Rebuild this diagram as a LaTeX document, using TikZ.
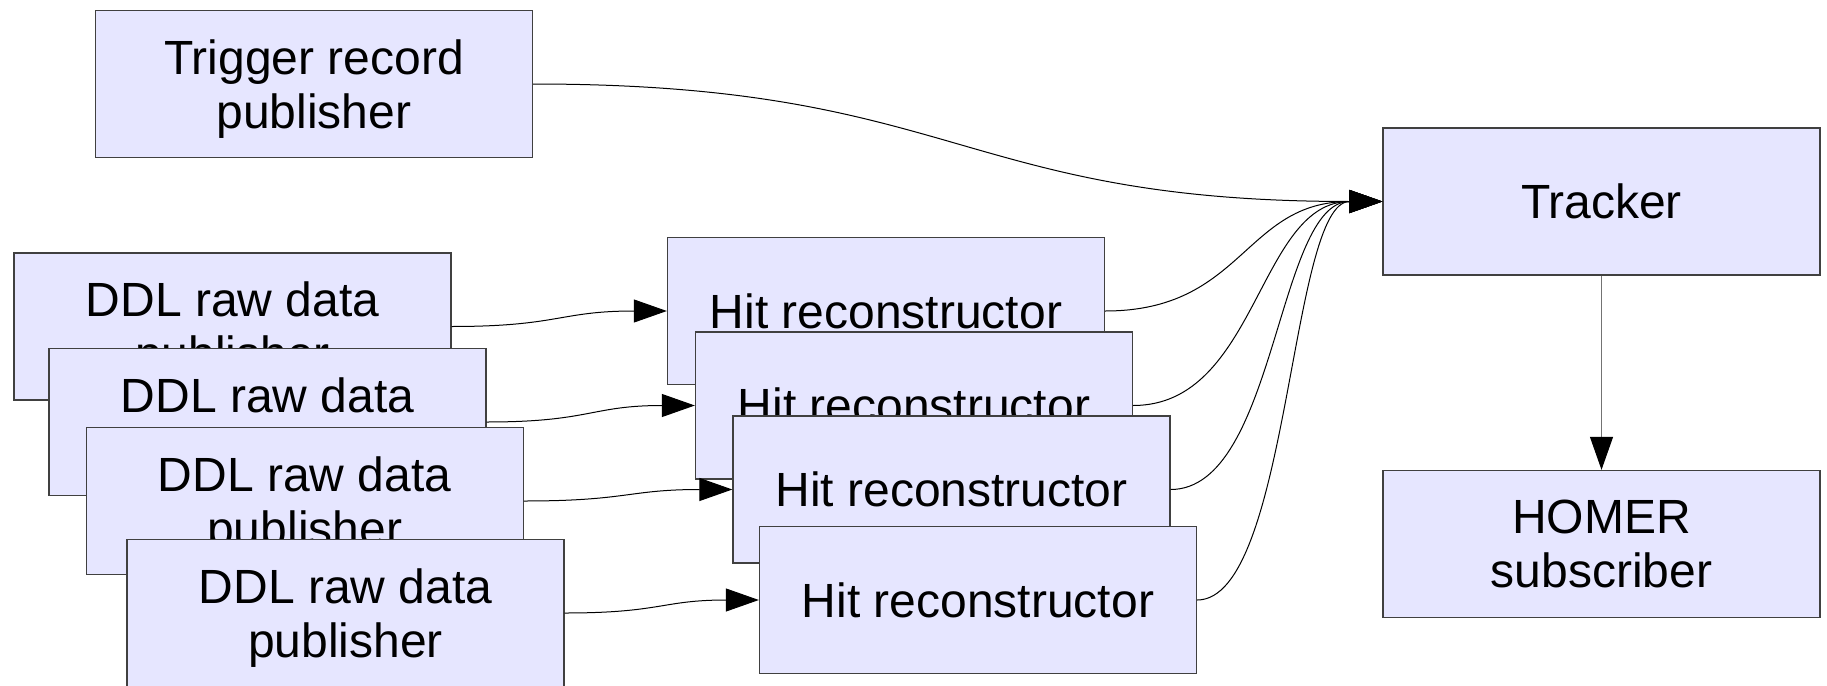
\documentclass[tikz,border=0pt]{standalone}
\usepackage{fontspec}
\setmainfont{Liberation Sans}
\usetikzlibrary{arrows.meta,calc}
\definecolor{boxfill}{HTML}{E6E6FF}
\definecolor{boxline}{HTML}{404040}
\begin{document}
\begin{tikzpicture}[x=1pt,y=-1pt,
  box/.style={draw=boxline, line width=1.3pt, fill=boxfill,
    minimum width=437pt, minimum height=147pt, inner sep=0pt,
    align=center, text depth=0pt, font=\fontsize{48}{54}\selectfont},
  link/.style={line width=1pt, -{Triangle[length=33pt,width=23pt,color=black]}},
  scurve/.style={to path={let \p1=(\tikztostart), \p2=(\tikztotarget) in
    .. controls ({(\x1+\x2)/2},\y1) and ({(\x1+\x2)/2},\y2) .. (\tikztotarget)}}]

\path[use as bounding box] (0,0) rectangle (1827,685);
\clip (0,0) rectangle (1827,685);

% sources and sinks
\node[box] (trig)    at (314,84)      {Trigger record\\publisher};
\node[box] (tracker) at (1601.5,201.5) {Tracker};
\node[box] (homer)   at (1601.5,544)   {HOMER\\subscriber};

% stacked raw data publishers
\node[box] (ddl1) at (232.5,326.5) {DDL raw data\\publisher};
\node[box] (ddl2) at (267.5,422)   {DDL raw data\\publisher};
\node[box] (ddl3) at (304.7,501)   {DDL raw data\\publisher};
\node[box] (ddl4) at (345.5,613)   {DDL raw data\\publisher};

% stacked hit reconstructors
\node[box] (hit1) at (886,311)    {Hit reconstructor};
\node[box] (hit2) at (914,405.5)  {Hit reconstructor};
\node[box] (hit3) at (951.5,489.5) {Hit reconstructor};
\node[box] (hit4) at (978,600)    {Hit reconstructor};

% data flow
\draw[link] (trig.east) to[scurve] (tracker.west);
\foreach \i in {1,...,4}{
  \draw[link] (ddl\i.east) to[scurve] (hit\i.west);
  \draw[link] (hit\i.east) to[scurve] (tracker.west);
}
\draw[link, draw=black!55] (tracker.south) -- (homer.north);
\end{tikzpicture}
\end{document}
